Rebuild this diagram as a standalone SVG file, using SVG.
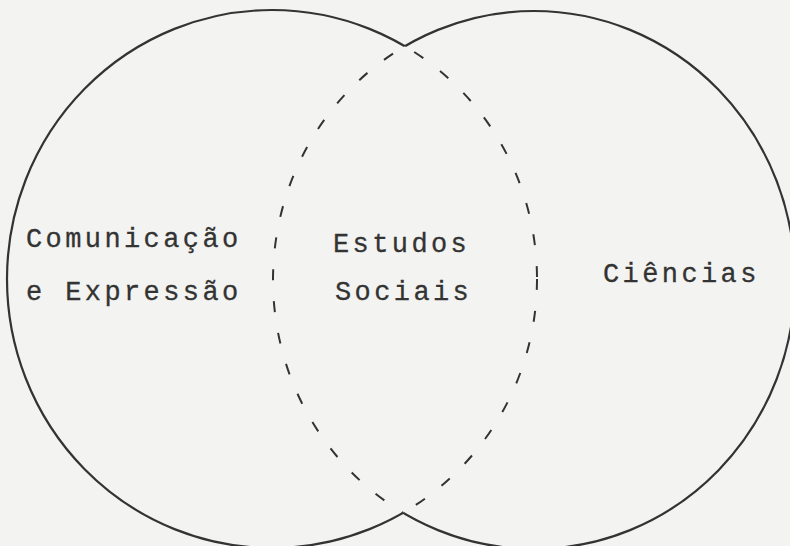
<svg xmlns="http://www.w3.org/2000/svg" width="790" height="546" viewBox="0 0 790 546">
  <style>
    .solid { fill: none; stroke: #333; stroke-width: 2.2; }
    .dash { fill: none; stroke: #333; stroke-width: 2; stroke-dasharray: 11 21; }
    .lbl { font-family: "Liberation Mono", "Courier New", monospace; font-size: 27px; letter-spacing: 3.4px; fill: #333; stroke: #333; stroke-width: 0.3; }
  </style>
  <defs>
    <clipPath id="inR"><ellipse cx="534" cy="280" rx="261" ry="269"/></clipPath>
    <clipPath id="outR"><path clip-rule="evenodd" d="M-10 -10H800V556H-10Z M273 280a261 269 0 1 0 522 0a261 269 0 1 0 -522 0Z"/></clipPath>
    <clipPath id="inL"><ellipse cx="272" cy="279" rx="265" ry="269"/></clipPath>
    <clipPath id="outL"><path clip-rule="evenodd" d="M-10 -10H800V556H-10Z M7 279a265 269 0 1 0 530 0a265 269 0 1 0 -530 0Z"/></clipPath>
  </defs>
  <rect width="790" height="546" fill="#f3f3f1"/>
  <g id="circle-left">
    <ellipse class="solid" cx="272" cy="279" rx="265" ry="269" clip-path="url(#outR)"/>
    <ellipse class="dash" cx="272" cy="279" rx="265" ry="269" clip-path="url(#inR)"/>
  </g>
  <g id="circle-right">
    <ellipse class="solid" cx="534" cy="280" rx="261" ry="269" clip-path="url(#outL)"/>
    <ellipse class="dash" cx="534" cy="280" rx="261" ry="269" clip-path="url(#inL)"/>
  </g>
  <g id="label-comunicacao">
    <text class="lbl" x="26" y="247">Comunicação</text>
    <text class="lbl" x="26" y="300">e Expressão</text>
  </g>
  <g id="label-estudos">
    <text class="lbl" x="333" y="252">Estudos</text>
    <text class="lbl" x="335" y="300">Sociais</text>
  </g>
  <g id="label-ciencias">
    <text class="lbl" x="603" y="282">Ciências</text>
  </g>
  <g id="connectors"/>
</svg>
